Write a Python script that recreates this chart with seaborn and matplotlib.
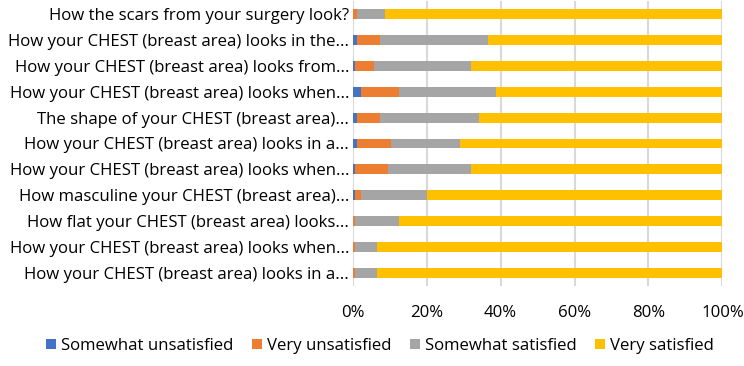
import numpy as np
import pandas as pd
import matplotlib
matplotlib.use("Agg")
import matplotlib.pyplot as plt
import seaborn as sns
from matplotlib.patches import Patch

questions = [
    "How the scars from your surgery look?",
    "How your CHEST (breast area) looks in the...",
    "How your CHEST (breast area) looks from...",
    "How your CHEST (breast area) looks when...",
    "The shape of your CHEST (breast area)...",
    "How your CHEST (breast area) looks in a...",
    "How your CHEST (breast area) looks when...",
    "How masculine your CHEST (breast area)...",
    "How flat your CHEST (breast area) looks...",
    "How your CHEST (breast area) looks when...",
    "How your CHEST (breast area) looks in a...",
]
somewhat_unsatisfied = [0.0, 1.2, 0.5, 2.2, 1.2, 1.2, 0.5, 0.5, 0.0, 0.0, 0.0]
very_unsatisfied = [1.2, 6.2, 5.4, 10.4, 6.2, 9.2, 9.0, 1.7, 0.5, 0.5, 0.5]
somewhat_satisfied = [7.6, 29.2, 26.2, 26.2, 26.9, 18.7, 22.6, 17.9, 12.1, 6.1, 6.1]
very_satisfied = [91.2, 63.4, 67.9, 61.2, 65.7, 70.9, 67.9, 79.9, 87.4, 93.4, 93.4]

series_names = ["Somewhat unsatisfied", "Very unsatisfied", "Somewhat satisfied", "Very satisfied"]
colors = ["#4472C4", "#ED7D31", "#A5A5A5", "#FFC000"]

sns.set_theme(style="white")
plt.rcParams['font.family'] = ['Open Sans', 'DejaVu Sans']

df = pd.DataFrame({
    "question": questions,
    series_names[0]: somewhat_unsatisfied,
    series_names[1]: very_unsatisfied,
    series_names[2]: somewhat_satisfied,
    series_names[3]: very_satisfied,
})
df["row"] = np.arange(len(df))
# cumulative sums so later (shorter) bars paint over earlier ones
cum = df[series_names].cumsum(axis=1)

fig = plt.figure(figsize=(7.44, 3.66), dpi=100)
ax = fig.add_axes([0.474, 0.219, 0.497, 0.778])

for name, color in reversed(list(zip(series_names, colors))):
    sns.barplot(x=cum[name] / 100, y=df["row"].astype(str), orient="h",
                color=color, width=0.38, ax=ax, saturation=1, linewidth=0,
                order=[str(i) for i in df["row"]])

fs = 12.1
ax.set_xlim(0, 1)
ax.set_ylim(len(df) - 0.5, -0.5)
ax.set_xticks(np.linspace(0, 1, 6))
ax.set_xticklabels([f"{int(v)}%" for v in np.linspace(0, 100, 6)], fontsize=fs, color="black")
ax.set_yticks(range(len(df)))
ax.set_yticklabels(questions, fontsize=fs, color="black")
ax.tick_params(axis="x", pad=14, length=0)
ax.tick_params(axis="y", pad=2.5, length=0)
ax.set_xlabel("")
ax.set_ylabel("")
ax.grid(axis="x", color="#D9D9D9", linewidth=1.5)
ax.set_axisbelow(True)
for s in ax.spines.values():
    s.set_visible(False)

handles = [Patch(facecolor=c, edgecolor="none", label=n) for n, c in zip(series_names, colors)]
fig.legend(handles=handles, loc="center", bbox_to_anchor=(380 / 744, 1 - 346 / 366),
           ncol=4, frameon=False, fontsize=fs, handlelength=0.6, handleheight=0.6,
           handletextpad=0.3, columnspacing=1.1, labelcolor="black")

fig.savefig("out.png", dpi=100)
